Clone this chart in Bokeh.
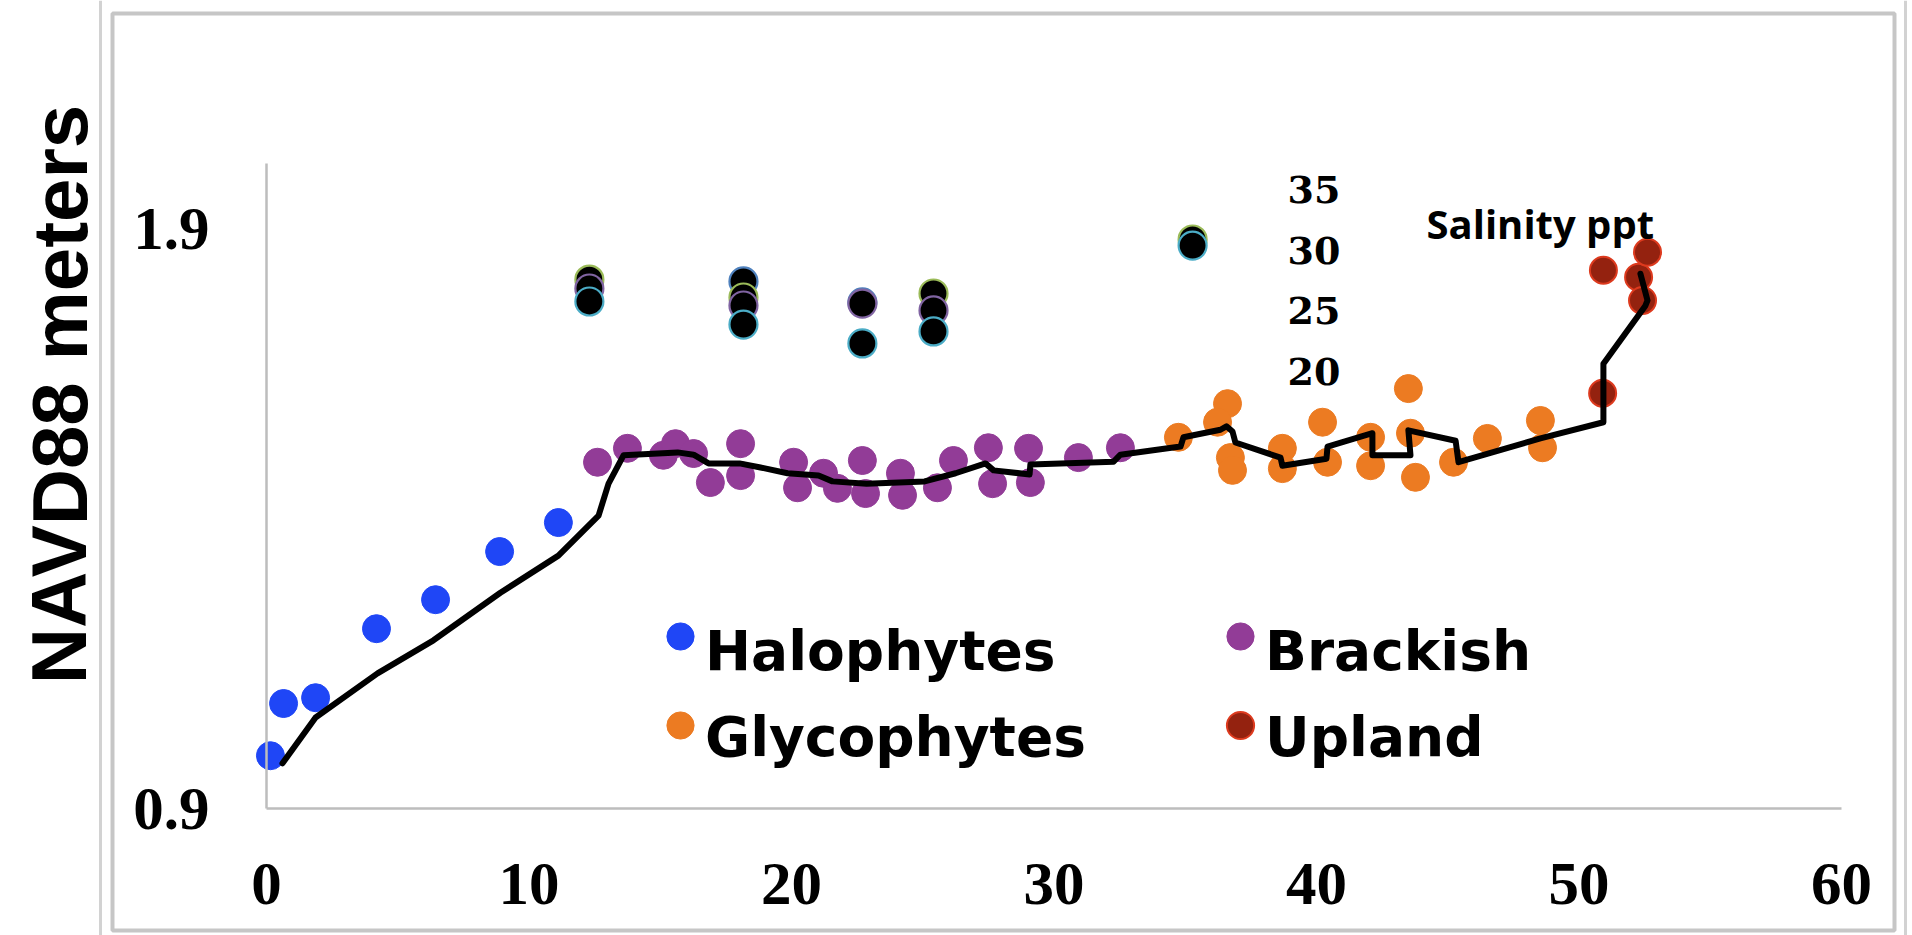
from bokeh.plotting import figure
from bokeh.models import (Range1d, LinearAxis, FixedTicker, Label, Legend,
                          LegendItem, Span, BoxAnnotation)
from bokeh.embed import file_html
from bokeh.resources import INLINE

# ---------------- data ----------------
# distance along transect vs. elevation (NAVD88, m) for each vegetation class
halophytes_x = [0.15, 0.65, 1.87, 4.19, 6.44, 8.88, 11.12]
halophytes_y = [0.991, 1.081, 1.091, 1.210, 1.260, 1.343, 1.393]

brackish_x = [12.61, 13.75, 15.12, 15.58, 16.27, 16.91, 18.06, 18.06, 20.08, 20.23,
              21.22, 21.75, 22.70, 22.82, 24.15, 24.23, 25.56, 26.17, 27.50, 27.66,
              29.03, 29.10, 30.93, 32.53]
brackish_y = [1.497, 1.521, 1.509, 1.529, 1.512, 1.462, 1.529, 1.474, 1.497, 1.453,
              1.478, 1.452, 1.500, 1.443, 1.478, 1.440, 1.453, 1.500, 1.522, 1.460,
              1.521, 1.462, 1.505, 1.522]

glycophytes_x = [34.74, 36.61, 36.23, 36.72, 36.80, 38.70, 38.70, 40.23, 40.42, 42.06,
                 42.06, 43.50, 43.58, 43.77, 45.22, 46.51, 48.53, 48.61]
glycophytes_y = [1.540, 1.598, 1.566, 1.505, 1.483, 1.521, 1.486, 1.566, 1.497, 1.540,
                 1.491, 1.624, 1.547, 1.471, 1.497, 1.538, 1.569, 1.522]

upland_x = [50.90, 50.93, 52.27, 52.42, 52.61]
upland_y = [1.616, 1.828, 1.816, 1.776, 1.859]

# elevation profile line
profile_x = [0.61, 1.87, 4.23, 6.36, 8.91, 11.12, 12.65, 13.03, 13.60, 15.66, 16.27,
             16.84, 18.02, 18.82, 19.85, 21.03, 21.56, 22.86, 25.07, 26.25, 27.39,
             27.70, 29.07, 29.10, 32.27, 32.53, 34.82, 34.93, 36.34, 36.57, 36.80,
             36.91, 38.63, 38.70, 40.38, 40.42, 42.13, 42.13, 43.58, 43.50, 45.30,
             45.41, 48.53, 50.93, 50.93, 52.53, 52.61, 52.34]
profile_y = [0.978, 1.057, 1.133, 1.190, 1.272, 1.336, 1.405, 1.460, 1.509, 1.514, 1.510,
             1.495, 1.495, 1.488, 1.478, 1.474, 1.464, 1.460, 1.464, 1.478, 1.495,
             1.483, 1.476, 1.493, 1.498, 1.510, 1.524, 1.540, 1.553, 1.559, 1.550,
             1.531, 1.505, 1.491, 1.503, 1.524, 1.547, 1.509, 1.509, 1.552, 1.534,
             1.497, 1.538, 1.566, 1.667, 1.767, 1.776, 1.822]

# salinity (ppt) readings at the sampling stations, one list per survey
sal_blue_x = [18.17, 22.70]
sal_blue = [27.42, 25.70]
sal_green_x = [12.30, 18.17, 25.41, 35.28]
sal_green = [27.58, 26.10, 26.43, 30.88]
sal_purple_x = [12.30, 18.17, 22.70, 25.41]
sal_purple = [26.84, 25.44, 25.60, 25.03]
sal_aqua_x = [12.30, 18.17, 22.70, 25.41, 35.28]
sal_aqua = [25.77, 23.87, 22.31, 23.30, 30.38]

class_names = ["Halophytes", "Glycophytes", "Brackish", "Upland"]

x_ticks = [0, 10, 20, 30, 40, 50, 60]
y_ticks = [0.9, 1.9]
salinity_ticks = [20, 25, 30, 35]

# ---------------- page geometry (pixels) ----------------
W, H = 1912, 935
X_ORIGIN_PX, X_PX_PER_UNIT = 266, 26.25
Y_BASE, Y_BASE_PX, Y_PX_PER_UNIT = 0.9, 808, 580.0
SAL_BASE, SAL_BASE_PX, SAL_PX_PER_UNIT = 20, 371, 12.133
Y_AXIS_TOP_PX = 163


def px_to_x(px):
    return (px - X_ORIGIN_PX) / X_PX_PER_UNIT


def py_to_y(py):
    return Y_BASE + (Y_BASE_PX - py) / Y_PX_PER_UNIT


def py_to_sal(py):
    return SAL_BASE + (SAL_BASE_PX - py) / SAL_PX_PER_UNIT


p = figure(width=W, height=H,
           x_range=Range1d(px_to_x(0), px_to_x(W)),
           y_range=Range1d(py_to_y(H), py_to_y(0)),
           x_axis_type=None, y_axis_type=None,
           toolbar_location=None, output_backend="svg",
           min_border=0, outline_line_color=None,
           background_fill_color="white", border_fill_color="white")
p.title.visible = False
p.extra_y_ranges = {"salinity": Range1d(py_to_sal(H), py_to_sal(0))}

# slide frame
p.add_layout(BoxAnnotation(left=px_to_x(112), right=px_to_x(1894),
                           top=py_to_y(13), bottom=py_to_y(930),
                           fill_color=None, fill_alpha=0,
                           line_color="#c6c6c6", line_alpha=1, line_width=4))
for edge in (100, 1905):
    p.add_layout(Span(location=px_to_x(edge), dimension="height",
                      line_color="#d2d2d2", line_width=3))

# axes drawn at fixed data positions
axis_grey = "#bdbdbd"
xaxis = LinearAxis(fixed_location=Y_BASE, bounds=(0, 60),
                   ticker=FixedTicker(ticks=x_ticks))
yaxis = LinearAxis(fixed_location=0, bounds=(Y_BASE, py_to_y(Y_AXIS_TOP_PX)),
                   ticker=FixedTicker(ticks=y_ticks))
for ax, standoff in ((xaxis, 55), (yaxis, 57)):
    ax.axis_line_color = axis_grey
    ax.axis_line_width = 2.5
    ax.major_tick_line_color = None
    ax.minor_tick_line_color = None
    ax.major_tick_out = 0
    ax.major_tick_in = 0
    ax.major_label_standoff = standoff
    ax.major_label_text_font = "Liberation Serif"
    ax.major_label_text_font_style = "bold"
    ax.major_label_text_font_size = "61px"
    ax.major_label_text_color = "black"
p.add_layout(xaxis, "below")
p.add_layout(yaxis, "left")

sal_axis = LinearAxis(y_range_name="salinity", fixed_location=px_to_x(1283),
                      ticker=FixedTicker(ticks=salinity_ticks))
sal_axis.axis_line_color = None
sal_axis.major_tick_line_color = None
sal_axis.minor_tick_line_color = None
sal_axis.major_tick_out = 0
sal_axis.major_tick_in = 0
sal_axis.major_label_standoff = 4
sal_axis.major_label_text_font = "DejaVu Serif"
sal_axis.major_label_text_font_style = "bold"
sal_axis.major_label_text_font_size = "38px"
sal_axis.major_label_text_color = "black"
p.add_layout(sal_axis, "right")

# salinity markers: black discs with a coloured rim per survey
for xs, vals, rim in ((sal_blue_x, sal_blue, "#4f81bd"),
                      (sal_green_x, sal_green, "#9bbb59"),
                      (sal_purple_x, sal_purple, "#8064a2"),
                      (sal_aqua_x, sal_aqua, "#4bacc6")):
    p.scatter(xs, vals, y_range_name="salinity", size=28,
              fill_color="black", line_color=rim, line_width=2.2)

# vegetation classes
DOT = 28
r_halo = p.scatter(halophytes_x, halophytes_y, size=DOT,
                   fill_color="#1f46f6", line_color="#1f46f6")
r_brack = p.scatter(brackish_x, brackish_y, size=DOT,
                    fill_color="#923c97", line_color="#923c97")
r_glyco = p.scatter(glycophytes_x, glycophytes_y, size=DOT,
                    fill_color="#ec7b22", line_color="#ec7b22")
r_up = p.scatter(upland_x, upland_y, size=DOT - 1,
                 fill_color="#94220f", line_color="#dd3a1e", line_width=2)

p.line(profile_x, profile_y, line_color="black", line_width=6,
       line_join="round", line_cap="round")

# text annotations
p.add_layout(Label(x=px_to_x(59), y=py_to_y(394), text="NAVD88 meters",
                   angle=1.5707963, text_align="center", text_baseline="middle",
                   text_font="Liberation Sans", text_font_style="bold",
                   text_font_size="78px", text_color="black"))
p.add_layout(Label(x=px_to_x(1426), y=py_to_y(223), text="Salinity ppt",
                   text_align="left", text_baseline="alphabetic",
                   text_font="Open Sans", text_font_style="bold",
                   text_font_size="40px", text_color="black"))

# legend: the markers sit level with the cap line of their labels, so the
# markers and the labels are laid out as two aligned legend grids
class_renderers = [r_halo, r_glyco, r_brack, r_up]
common = dict(orientation="vertical", ncols=2, padding=0, margin=0,
              border_line_color=None, background_fill_alpha=0,
              label_text_font="DejaVu Sans", label_text_font_style="bold",
              label_text_font_size="55px", label_text_color="black",
              label_standoff=0)
marker_legend = Legend(items=[LegendItem(label="", renderers=[r])
                              for r in class_renderers],
                       location=(646, H - 759), glyph_width=68, glyph_height=68,
                       label_width=471, label_height=20, spacing=21, **common)
label_legend = Legend(items=[LegendItem(label=name, renderers=[r])
                             for name, r in zip(class_names, class_renderers)],
                      location=(705, H - 771), glyph_width=0, glyph_height=68,
                      label_width=542, label_height=68, spacing=18, **common)
p.add_layout(marker_legend)
p.add_layout(label_legend)

open("out.html", "w").write(file_html(p, INLINE))
